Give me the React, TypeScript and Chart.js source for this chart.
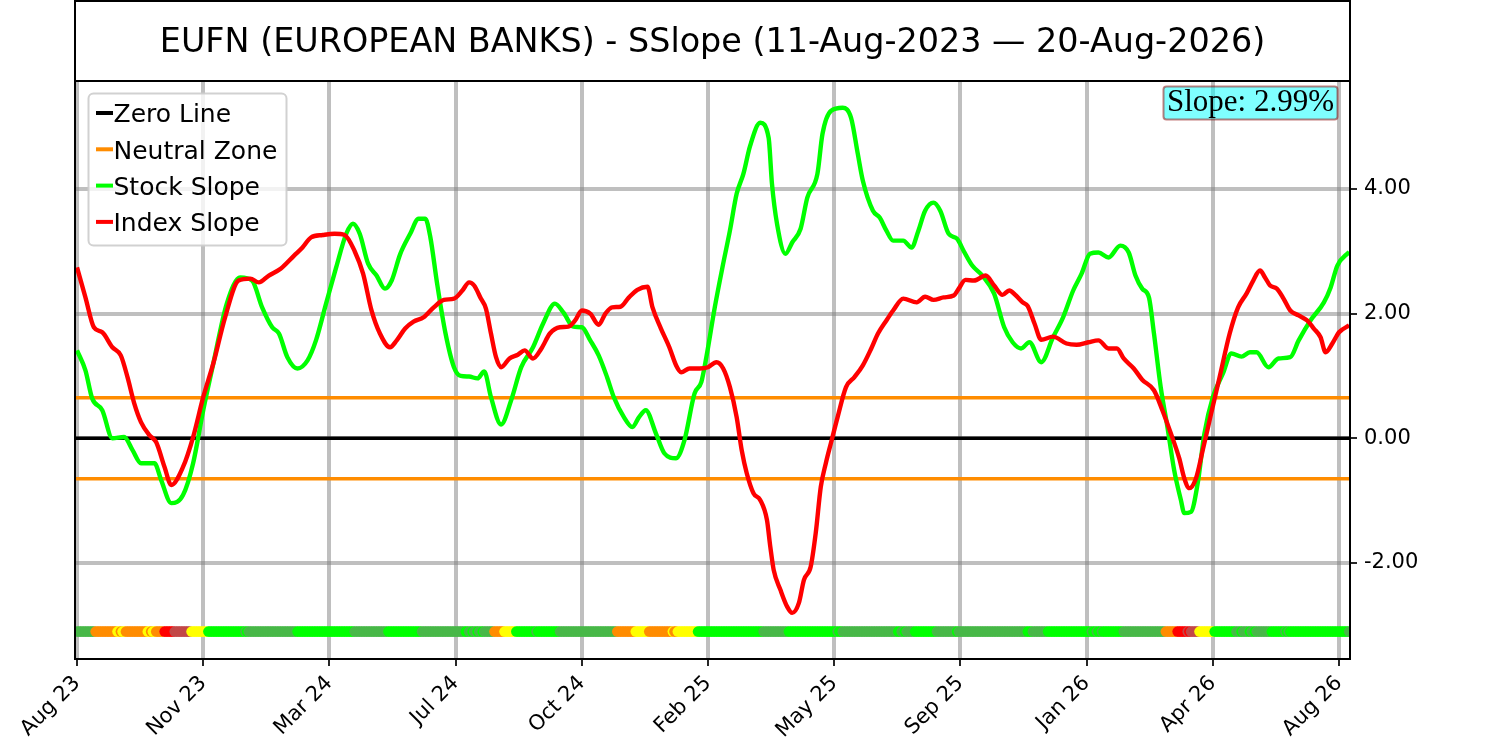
import { useEffect, useRef } from "react"
import { Chart, registerables } from "chart.js"

Chart.register(...registerables)

const TITLE = "EUFN (EUROPEAN BANKS) - SSlope (11-Aug-2023 — 20-Aug-2026)"
const SLOPE_TEXT = "Slope: 2.99%"

// x axis is a trading-day index, a month label every 75 days
const tickDays = [0, 75, 150, 225, 300, 375, 450, 525, 600, 675, 750]
const tickLabels = ["Aug 23", "Nov 23", "Mar 24", "Jul 24", "Oct 24", "Feb 25", "May 25", "Sep 25", "Jan 26", "Apr 26", "Aug 26"]
const lastDay = 756

const yTicks = [-2, 0, 2, 4]
const neutralBand = 0.65
const signalLevel = -3.1

// stock slope (green)
const stockDays = [0, 5, 9, 15, 21, 28, 33, 38, 46, 50, 56, 63, 69, 75, 81, 89, 97, 104, 110, 116, 120, 125, 131, 137, 142, 148, 154, 160, 164, 168, 173, 178, 183, 187, 192, 198, 203, 207, 210, 214, 219, 224, 228, 233, 238, 242, 246, 252, 258, 264, 271, 277, 284, 289, 295, 300, 305, 310, 315, 319, 325, 330, 334, 338, 344, 349, 356, 361, 367, 371, 374, 379, 384, 388, 392, 396, 400, 406, 411, 413, 416, 421, 425, 430, 434, 440, 443, 448, 455, 460, 464, 467, 473, 477, 481, 485, 491, 496, 500, 504, 509, 513, 518, 523, 527, 532, 538, 545, 551, 556, 561, 566, 573, 580, 586, 592, 597, 602, 607, 613, 620, 625, 629, 633, 637, 640, 644, 648, 652, 656, 658, 662, 666, 670, 675, 681, 686, 692, 697, 701, 708, 714, 721, 726, 733, 741, 745, 749, 756]
const stockSlope = [1.41, 1.09, 0.64, 0.45, 0.0, 0.02, -0.19, -0.4, -0.4, -0.67, -1.04, -0.91, -0.4, 0.45, 1.2, 2.16, 2.58, 2.53, 2.1, 1.78, 1.68, 1.3, 1.12, 1.25, 1.57, 2.16, 2.74, 3.28, 3.44, 3.28, 2.8, 2.61, 2.4, 2.53, 2.95, 3.28, 3.52, 3.52, 3.22, 2.48, 1.68, 1.14, 1.0, 0.99, 0.96, 1.07, 0.66, 0.22, 0.61, 1.14, 1.46, 1.84, 2.16, 2.02, 1.79, 1.78, 1.57, 1.33, 0.98, 0.66, 0.34, 0.18, 0.34, 0.45, 0.08, -0.24, -0.32, -0.03, 0.72, 0.9, 1.3, 2.1, 2.8, 3.33, 3.92, 4.24, 4.69, 5.06, 4.82, 4.08, 3.44, 2.96, 3.14, 3.36, 3.86, 4.24, 4.88, 5.25, 5.3, 5.14, 4.56, 4.13, 3.65, 3.54, 3.33, 3.17, 3.17, 3.06, 3.33, 3.65, 3.78, 3.65, 3.28, 3.2, 3.0, 2.77, 2.61, 2.32, 1.78, 1.54, 1.44, 1.54, 1.22, 1.62, 1.94, 2.37, 2.64, 2.96, 2.98, 2.9, 3.09, 2.98, 2.61, 2.4, 2.26, 1.68, 0.82, 0.18, -0.51, -0.99, -1.2, -1.18, -0.72, 0.08, 0.66, 1.04, 1.36, 1.31, 1.38, 1.38, 1.14, 1.28, 1.3, 1.57, 1.89, 2.18, 2.42, 2.77, 2.99]

// index slope (red)
const indexDays = [0, 5, 10, 15, 21, 26, 30, 34, 38, 43, 47, 52, 56, 63, 69, 75, 81, 88, 96, 103, 108, 114, 121, 129, 134, 139, 146, 153, 159, 165, 170, 175, 180, 186, 190, 195, 200, 206, 212, 218, 224, 229, 233, 236, 240, 243, 246, 249, 252, 257, 262, 266, 271, 276, 281, 287, 292, 296, 300, 305, 310, 314, 318, 323, 328, 333, 339, 342, 347, 352, 356, 359, 364, 370, 375, 380, 384, 388, 392, 395, 398, 402, 406, 410, 412, 414, 418, 422, 425, 429, 432, 436, 439, 442, 445, 448, 452, 457, 462, 467, 472, 476, 481, 485, 491, 499, 504, 509, 515, 521, 524, 528, 533, 540, 545, 550, 554, 558, 562, 565, 569, 573, 580, 588, 594, 601, 607, 613, 618, 622, 628, 633, 640, 645, 650, 655, 658, 661, 665, 669, 674, 679, 685, 690, 695, 699, 703, 706, 709, 713, 717, 721, 726, 731, 735, 739, 742, 746, 750, 756]
const indexSlope = [2.74, 2.26, 1.78, 1.7, 1.46, 1.33, 0.98, 0.56, 0.26, 0.05, -0.06, -0.46, -0.75, -0.46, 0.02, 0.66, 1.2, 1.94, 2.53, 2.56, 2.5, 2.61, 2.72, 2.93, 3.06, 3.22, 3.26, 3.28, 3.26, 3.0, 2.64, 2.05, 1.68, 1.46, 1.57, 1.76, 1.87, 1.94, 2.1, 2.22, 2.24, 2.37, 2.5, 2.45, 2.24, 2.08, 1.68, 1.3, 1.14, 1.28, 1.34, 1.41, 1.28, 1.44, 1.68, 1.78, 1.79, 1.89, 2.05, 2.0, 1.82, 2.0, 2.1, 2.11, 2.26, 2.38, 2.43, 2.1, 1.76, 1.46, 1.17, 1.06, 1.12, 1.12, 1.14, 1.22, 1.12, 0.82, 0.34, -0.19, -0.56, -0.88, -0.99, -1.31, -1.74, -2.11, -2.43, -2.7, -2.8, -2.64, -2.27, -2.06, -1.52, -0.78, -0.4, -0.08, 0.34, 0.82, 0.98, 1.17, 1.44, 1.68, 1.89, 2.05, 2.24, 2.18, 2.27, 2.22, 2.26, 2.29, 2.4, 2.54, 2.53, 2.61, 2.45, 2.3, 2.37, 2.29, 2.18, 2.12, 1.84, 1.58, 1.63, 1.52, 1.5, 1.54, 1.57, 1.44, 1.44, 1.28, 1.12, 0.94, 0.77, 0.45, 0.08, -0.32, -0.64, -0.8, -0.64, -0.19, 0.4, 0.98, 1.68, 2.1, 2.32, 2.53, 2.69, 2.58, 2.45, 2.4, 2.24, 2.05, 1.97, 1.89, 1.76, 1.62, 1.38, 1.52, 1.7, 1.81]

// signal strip: first day of each run and its state
const signalStarts = [0, 11, 24, 26, 27, 29, 42, 44, 45, 47, 52, 58, 68, 78, 100, 101, 102, 131, 165, 185, 205, 231, 233, 235, 236, 238, 239, 241, 242, 248, 254, 261, 273, 274, 287, 321, 332, 340, 354, 355, 357, 369, 408, 423, 452, 453, 455, 488, 490, 492, 493, 498, 511, 523, 524, 565, 568, 577, 603, 604, 606, 607, 609, 610, 622, 647, 654, 660, 661, 662, 667, 676, 689, 692, 693, 697, 698, 700, 701, 710, 718, 719, 720, 721, 756]
const signalStates = ["G", "O", "Y", "O", "Y", "O", "Y", "O", "Y", "O", "R", "B", "Y", "L", "G", "L", "G", "L", "G", "L", "G", "L", "G", "L", "G", "L", "G", "L", "G", "O", "Y", "L", "G", "L", "G", "O", "Y", "O", "Y", "O", "Y", "L", "G", "L", "G", "L", "G", "L", "G", "L", "G", "L", "G", "L", "G", "L", "G", "L", "G", "L", "G", "L", "G", "L", "G", "O", "R", "B", "R", "B", "Y", "L", "G", "L", "G", "L", "G", "L", "G", "L", "G", "L", "G", "L", "G"]

const statePalette: Record<string, string> = {
  L: "#00ff00",
  G: "#48b848",
  O: "#ff8c00",
  Y: "#ffff00",
  R: "#ff0000",
  B: "#c24848",
}

const X_MIN = -1.2
const X_MAX = 756.5
const Y_MIN = -3.54
const Y_MAX = 5.73

const FONT = "'DejaVu Sans', sans-serif"

const decorPlugin = {
  id: "decor",
  afterDraw(chart: Chart) {
    const { ctx, chartArea: a } = chart
    ctx.save()

    // title box
    ctx.strokeStyle = "#000"
    ctx.lineWidth = 2
    ctx.strokeRect(a.left, 1, a.right - a.left, a.top - 1)
    ctx.fillStyle = "#000"
    ctx.font = `33.4px ${FONT}`
    ctx.textAlign = "center"
    ctx.textBaseline = "alphabetic"
    ctx.fillText(TITLE, (a.left + a.right) / 2, 52)

    // plot frame
    ctx.strokeRect(a.left, a.top, a.right - a.left, a.bottom - a.top)

    // legend
    const items = chart.data.datasets.filter((d: any) => d.showInLegend)
    ctx.beginPath()
    ctx.roundRect(88.5, 93.5, 198, 152, 5)
    ctx.fillStyle = "rgba(255,255,255,0.8)"
    ctx.fill()
    ctx.strokeStyle = "rgba(204,204,204,0.9)"
    ctx.lineWidth = 2
    ctx.stroke()
    ctx.font = `25px ${FONT}`
    ctx.textAlign = "left"
    items.forEach((d: any, i: number) => {
      const y = 113 + i * 36.3
      ctx.strokeStyle = d.borderColor
      ctx.lineWidth = 4
      ctx.beginPath()
      ctx.moveTo(96, y)
      ctx.lineTo(113, y)
      ctx.stroke()
      ctx.fillStyle = "#000"
      ctx.fillText(d.label, 113.5, y + 9.3)
    })

    // slope annotation
    ctx.beginPath()
    ctx.roundRect(1163.5, 86.5, 174, 33, 3)
    ctx.fillStyle = "rgba(0,255,255,0.5)"
    ctx.fill()
    ctx.strokeStyle = "rgba(139,0,0,0.5)"
    ctx.lineWidth = 2
    ctx.stroke()
    ctx.fillStyle = "#000"
    ctx.font = "31px 'Liberation Serif', serif"
    ctx.textAlign = "center"
    ctx.fillText(SLOPE_TEXT, 1250.5, 110.5)

    ctx.restore()
  },
}

export default function App() {
  const chartRef = useRef<HTMLCanvasElement>(null)
  const chartInstance = useRef<Chart | null>(null)

  useEffect(() => {
    if (!chartRef.current) return
    if (chartInstance.current) chartInstance.current.destroy()

    const stockPoints = stockDays.map((d, i) => ({ x: d, y: stockSlope[i] }))
    const indexPoints = indexDays.map((d, i) => ({ x: d, y: indexSlope[i] }))

    const signalPoints: { x: number; y: number }[] = []
    const signalColors: string[] = []
    signalStarts.forEach((start, i) => {
      const end = i + 1 < signalStarts.length ? signalStarts[i + 1] : lastDay + 1
      for (let d = start; d < end; d++) {
        signalPoints.push({ x: d, y: signalLevel })
        signalColors.push(statePalette[signalStates[i]])
      }
    })

    const flat = (v: number) => [
      { x: X_MIN - 5, y: v },
      { x: X_MAX + 5, y: v },
    ]

    const gridColor = "rgba(128,128,128,0.5)"

    chartInstance.current = new Chart(chartRef.current, {
      type: "line",
      data: {
        datasets: [
          {
            label: "Zero Line",
            data: flat(0),
            borderColor: "#000000",
            borderWidth: 3.5,
            pointRadius: 0,
            clip: 0,
            order: 6,
            showInLegend: true,
          } as any,
          {
            label: "Neutral Zone",
            data: flat(neutralBand),
            borderColor: "#ff8c00",
            borderWidth: 3.5,
            pointRadius: 0,
            clip: 0,
            order: 5,
            showInLegend: true,
          },
          {
            label: "Neutral Zone (low)",
            data: flat(-neutralBand),
            borderColor: "#ff8c00",
            borderWidth: 3.5,
            pointRadius: 0,
            clip: 0,
            order: 5,
          },
          {
            label: "Stock Slope",
            data: stockPoints,
            borderColor: "#00ff00",
            borderWidth: 4.4,
            pointRadius: 0,
            cubicInterpolationMode: "monotone",
            order: 4,
            showInLegend: true,
          },
          {
            label: "Index Slope",
            data: indexPoints,
            borderColor: "#ff0000",
            borderWidth: 4.4,
            pointRadius: 0,
            cubicInterpolationMode: "monotone",
            order: 3,
            showInLegend: true,
          },
          {
            label: "Signal",
            data: signalPoints,
            showLine: false,
            pointRadius: 5.2,
            pointBorderWidth: 0,
            pointBackgroundColor: signalColors,
            pointBorderColor: signalColors,
            clip: 0,
            order: 1,
          },
        ] as any,
      },
      options: {
        animation: false,
        responsive: false,
        events: [],
        layout: { padding: { left: 75, top: 81, right: 0, bottom: 0 } },
        scales: {
          x: {
            type: "linear",
            min: X_MIN,
            max: X_MAX,
            afterBuildTicks: (scale: any) => {
              scale.ticks = tickDays.map((v) => ({ value: v }))
            },
            afterFit: (scale: any) => {
              scale.height = 82
            },
            ticks: {
              autoSkip: false,
              minRotation: 45,
              maxRotation: 45,
              padding: 5,
              color: "#000",
              font: { family: FONT, size: 21 },
              callback: (v: any) => tickLabels[tickDays.indexOf(Number(v))] ?? "",
            },
            grid: {
              color: gridColor,
              lineWidth: 4,
              tickColor: "#000",
              tickWidth: 1.7,
              tickLength: 7,
            },
            border: { display: false },
          },
          y: {
            type: "linear",
            position: "right",
            min: Y_MIN,
            max: Y_MAX,
            afterBuildTicks: (scale: any) => {
              scale.ticks = yTicks.map((v) => ({ value: v }))
            },
            afterFit: (scale: any) => {
              scale.width = 150
            },
            ticks: {
              padding: 7,
              color: "#000",
              font: { family: FONT, size: 21 },
              callback: (v: any) => Number(v).toFixed(2),
            },
            grid: {
              color: gridColor,
              lineWidth: 4,
              tickColor: "#000",
              tickWidth: 1.7,
              tickLength: 7,
            },
            border: { display: false },
          },
        },
        plugins: {
          legend: { display: false },
          tooltip: { enabled: false },
          title: { display: false },
        },
      },
      plugins: [decorPlugin],
    })

    return () => {
      if (chartInstance.current) {
        chartInstance.current.destroy()
        chartInstance.current = null
      }
    }
  }, [])

  return (
    <div style={{ position: "absolute", left: 0, top: 0, width: 1500, height: 741, background: "#fff" }}>
      <canvas ref={chartRef} width={1500} height={741} style={{ width: 1500, height: 741 }} />
    </div>
  )
}
